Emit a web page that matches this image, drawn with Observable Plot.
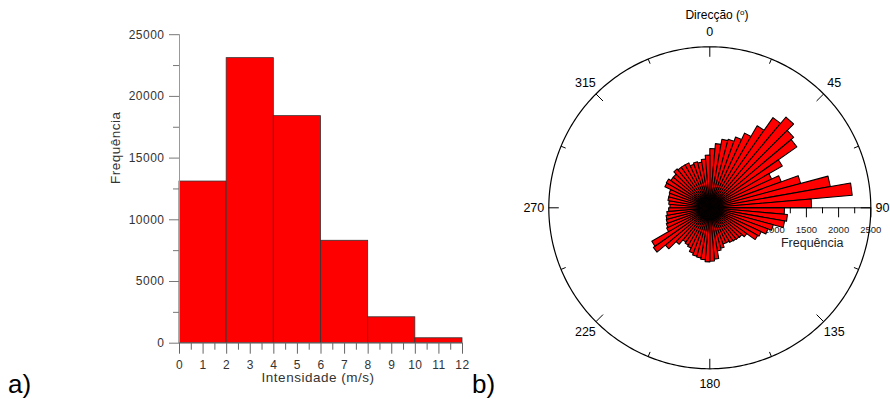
<!DOCTYPE html>
<html><head><meta charset="utf-8">
<script src="https://cdn.jsdelivr.net/npm/d3@7"></script>
<script src="https://cdn.jsdelivr.net/npm/@observablehq/plot@0.6"></script>
<style>
body{margin:0;background:#fff;}
#wrap{position:relative;width:890px;height:399px;overflow:hidden;background:#fff;font-family:"Liberation Sans",Arial,sans-serif;}
#left{position:absolute;left:0;top:0;}
#right{position:absolute;left:500px;top:0;}
.tag{position:absolute;font-size:26px;line-height:26px;color:#000;}
#dirTitle{position:absolute;left:617px;width:200px;top:7px;text-align:center;font-size:12px;line-height:16px;color:#000;}
#dirTitle sup{font-size:8px;vertical-align:4px;line-height:0;}
</style></head>
<body>
<div id="wrap">
  <div id="left"></div>
  <div id="right"></div>
  <div id="dirTitle">Direcção (<sup>o</sup>)</div>
  <div class="tag" style="left:8px;top:371px;">a)</div>
  <div class="tag" style="left:472px;top:371px;">b)</div>
</div>
<script>
// ---- a) histogram of wind speed ----
const speedBinStart = [0, 2, 4, 6, 8, 10];
const speedBinEnd = [2, 4, 6, 8, 10, 12];
const speedCounts = [13100, 23100, 18400, 8300, 2100, 400];
const speedTicks = [0, 1, 2, 3, 4, 5, 6, 7, 8, 9, 10, 11, 12];
const speedMinorTicks = [0.5, 1.5, 2.5, 3.5, 4.5, 5.5, 6.5, 7.5, 8.5, 9.5, 10.5, 11.5];
const freqTicks = [0, 5000, 10000, 15000, 20000, 25000];
const freqMinorTicks = [2500, 7500, 12500, 17500, 22500];

// ---- b) rose of wind direction (5 degree bins) ----
const dirBinWidth = 5;
const dirBinStart = [0,5,10,15,20,25,30,35,40,45,50,55,60,65,70,75,80,85,
  90,95,100,105,110,115,120,125,130,135,140,145,150,155,160,165,170,175,
  180,185,190,195,200,205,210,215,220,225,230,235,240,245,250,255,260,265,
  270,275,280,285,290,295,300,305,310,315,320,325,330,335,340,345,350,355];
const dirCounts = [920,1000,1080,1100,1170,1280,1470,1710,1840,1700,1650,1300,1060,1180,1460,1900,2220,1580,
  1160,1210,1180,1020,960,880,860,700,650,640,630,620,600,600,650,680,800,830,
  840,810,790,780,750,690,670,650,740,900,1070,1040,740,720,700,690,670,640,
  620,640,660,660,670,770,780,740,740,790,770,770,770,720,740,720,760,820];
const compassTicks = [0, 45, 90, 135, 180, 225, 270, 315];
const compassLabels = ["0", "45", "90", "135", "180", "225", "270", "315"];
const compassMinorTicks = [22.5, 67.5, 112.5, 157.5, 202.5, 247.5, 292.5, 337.5];
const radialTicks = [500, 1000, 1500, 2000, 2500];
const radialMinorTicks = [250, 750, 1250, 1750, 2250];
const radialMax = 2500;

const font = '"Liberation Sans", Arial, sans-serif';

// ---------- left chart ----------
const hist = speedBinStart.map((s, i) => ({x1: s, x2: speedBinEnd[i], y: speedCounts[i]}));
const left = Plot.plot({
  width: 480, height: 399,
  marginLeft: 179, marginRight: 18, marginTop: 34.2, marginBottom: 56.3,
  style: {fontFamily: font, fontSize: "12px", letterSpacing: "0.5px", color: "#333", background: "white", overflow: "visible"},
  x: {domain: [0, 12]},
  y: {domain: [0, 25000]},
  marks: [
    Plot.rectY(hist, {x1: "x1", x2: "x2", y: "y", fill: "#ff0000", stroke: "#333", strokeWidth: 0.8}),
    Plot.ruleX([0], {stroke: "#999"}),
    Plot.ruleY([0], {stroke: "#888"}),
    Plot.axisY(freqTicks, {tickSize: 10, tickPadding: 5, stroke: "#777", fill: "#333", label: null, tickFormat: d => String(d)}),
    Plot.axisY(freqMinorTicks, {tickSize: 6, stroke: "#777", fill: "none", label: null}),
    Plot.axisX(speedTicks, {tickSize: 11, tickPadding: 6, stroke: "#666", fill: "#333", label: null, tickFormat: d => String(d)}),
    Plot.axisX(speedMinorTicks, {tickSize: 7, stroke: "#666", fill: "none", label: null}),
    Plot.text(["Intensidade (m/s)"], {text: d => d, frameAnchor: "bottom", dy: 39, dx: -3, fontSize: 13.5, fill: "#333"}),
    Plot.text(["Frequência"], {text: d => d, frameAnchor: "left", dx: -64, dy: -5, rotate: -90, fontSize: 13.5, fill: "#333"})
  ]
});
document.getElementById("left").appendChild(left);

// ---------- right chart (rose) ----------
const W = 390, H = 399, cx = 209.3, cy = 207.3, Rpx = 161;
const K = radialMax / Rpx; // data units per pixel
const rad = d => d * Math.PI / 180;
const polar = (r, a) => ({x: r * Math.sin(rad(a)), y: r * Math.cos(rad(a))});

const wedgePts = dirBinStart.flatMap((a, i) => {
  const r = dirCounts[i];
  return [
    {bin: i, x: 0, y: 0},
    {bin: i, ...polar(r, a)},
    {bin: i, ...polar(r, a + dirBinWidth)}
  ];
});
const circlePts = d3.range(0, 361, 1).map(a => polar(radialMax, a));
const compTickData = [
  ...compassTicks.map(a => ({a, r1: radialMax - 10 * K})),
  ...compassMinorTicks.map(a => ({a, r1: radialMax - 5 * K}))
].map(d => {
  const p1 = polar(d.r1, d.a), p2 = polar(radialMax, d.a);
  return {x1: p1.x, y1: p1.y, x2: p2.x, y2: p2.y};
});
const labelR = 176 * K;
const compLabelData = compassTicks.map((a, i) => ({...polar(labelR, a), label: compassLabels[i], a}));
const xMax = (W - cx) * K;

const right = Plot.plot({
  width: W, height: H,
  marginLeft: 0, marginRight: 0, marginTop: 0, marginBottom: 0,
  style: {fontFamily: font, fontSize: "12px", color: "#000", background: "transparent"},
  x: {domain: [-cx * K, xMax], axis: null},
  y: {domain: [-(H - cy) * K, cy * K], axis: null},
  marks: [
    Plot.ruleX(radialTicks, {x: d => d, y1: 0, y2: -10 * K, stroke: "#000", strokeWidth: 1}),
    Plot.ruleX(radialMinorTicks, {x: d => d, y1: 0, y2: -6 * K, stroke: "#000", strokeWidth: 1}),
    Plot.text(radialTicks, {x: d => d, y: 0, dy: 22, text: d => String(d), fontSize: 9.5, fill: "#222"}),
    Plot.line(wedgePts, {x: "x", y: "y", z: "bin", fill: "#ff0000", stroke: "#000", strokeWidth: 1.05, curve: "linear-closed"}),
    Plot.ruleY([0], {x1: 0, x2: radialMax, stroke: "#000", strokeWidth: 1}),
    Plot.line(circlePts, {x: "x", y: "y", stroke: "#000", strokeWidth: 1.2}),
    Plot.link(compTickData, {x1: "x1", y1: "y1", x2: "x2", y2: "y2", stroke: "#000", strokeWidth: 1}),
    Plot.text(compLabelData.filter(d => d.a !== 90), {x: "x", y: "y", text: "label", fontSize: 12.5, fill: "#000"}),
    Plot.text(compLabelData.filter(d => d.a === 90), {x: () => xMax, y: "y", text: "label", textAnchor: "end", dx: -1, fontSize: 12.5, fill: "#000"}),
    Plot.text(["Frequência"], {text: d => d, x: 1590, y: 0, dy: 35.4, fontSize: 12.5, fill: "#222"})
  ]
});
document.getElementById("right").appendChild(right);
</script>
</body></html>
